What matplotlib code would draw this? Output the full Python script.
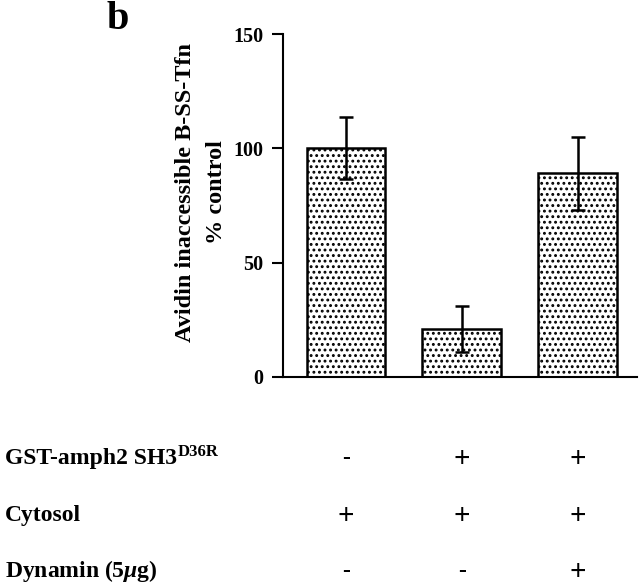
import matplotlib
matplotlib.use("Agg")
import matplotlib.pyplot as plt
from matplotlib.transforms import blended_transform_factory

plt.rcParams['font.family'] = ['Liberation Serif', 'DejaVu Serif']
plt.rcParams['font.weight'] = 'bold'
plt.rcParams['mathtext.fontset'] = 'custom'
plt.rcParams['mathtext.it'] = 'Liberation Serif:italic:bold'
plt.rcParams['mathtext.rm'] = 'Liberation Serif:bold'
plt.rcParams['hatch.linewidth'] = 1.3

# data
conditions = ["Control", "GST-amph2 SH3 D36R", "GST-amph2 SH3 D36R + Dynamin"]
values = [100, 21, 89]
errors = [13.5, 10, 16]
yticks = [0, 50, 100, 150]
row_labels = ["GST-amph2 SH3", "Cytosol", r"Dynamin (5$\mu$g)"]
row_super = "D36R"
row_marks = [["-", "+", "+"],
             ["+", "+", "+"],
             ["-", "-", "+"]]

fig = plt.figure(figsize=(6.4, 5.85), dpi=100)
ax = fig.add_axes([283/640, 1-377/585, (637-283)/640, (377-34)/585])

x = list(range(len(values)))
ax.bar(x, values, width=0.68, facecolor='white', edgecolor='black',
       linewidth=1.8, hatch='...', zorder=2)
ax.errorbar(x, values, yerr=errors, fmt='none', ecolor='black',
            elinewidth=1.8, capsize=5, capthick=1.8, zorder=3)

ax.set_xlim(-0.543, 2.51)
ax.set_ylim(0, 150)
ax.set_yticks(yticks)
ax.set_yticklabels([str(t) for t in yticks], fontsize=14.5, fontweight='bold')
ax.set_xticks([])
ax.spines['top'].set_visible(False)
ax.spines['right'].set_visible(False)
ax.spines['left'].set_linewidth(1.5)
ax.spines['bottom'].set_linewidth(1.5)
ax.tick_params(axis='y', direction='out', length=8, width=1.5, pad=6)

ax.set_ylabel("Avidin inaccessible B-SS-Tfn\n% control", fontsize=17.5,
              fontweight='bold', linespacing=1.6)
ax.yaxis.set_label_coords(-0.158, 0.538)

fig.text(107/640, 1-29/585, "b", fontsize=29, fontweight='bold',
         ha='left', va='baseline')

row_base = [464, 521, 577]
trans = blended_transform_factory(ax.transData, fig.transFigure)
fig.canvas.draw()
renderer = fig.canvas.get_renderer()
for i, (lab, ypix) in enumerate(zip(row_labels, row_base)):
    yf = 1 - ypix/585
    t = fig.text(5/640, yf, lab, fontsize=17, fontweight='bold',
                 ha='left', va='baseline')
    if i == 0:
        bb = t.get_window_extent(renderer=renderer)
        fig.text(bb.x1/640 + 1/640, yf + 8/585, row_super, fontsize=12,
                 fontweight='bold', ha='left', va='baseline')
    for xi, m in zip(x, row_marks[i]):
        if m == "+":
            fig.text(xi, yf - 3/585, m, transform=trans, fontsize=21,
                     fontweight='bold', ha='center', va='baseline')
        else:
            fig.text(xi, yf, m, transform=trans, fontsize=17,
                     fontweight='bold', ha='center', va='baseline')

fig.savefig("out.png", dpi=100)
